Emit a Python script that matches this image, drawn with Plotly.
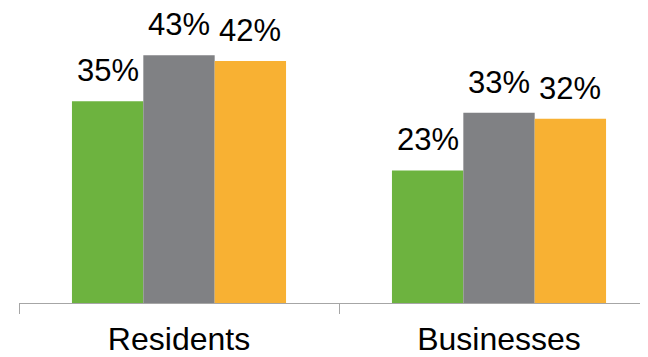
import plotly.graph_objects as go

categories = ["Residents", "Businesses"]
series_names = ["Series A", "Series B", "Series C"]
values_a = [35, 23]
values_b = [43, 33]
values_c = [42, 32]
colors = ["#6db33f", "#808184", "#f8b133"]

series = [values_a, values_b, values_c]
bargap = 0.331
bar_w = (1 - bargap) / len(series)

fig = go.Figure()
for name, vals, col in zip(series_names, series, colors):
    fig.add_trace(go.Bar(x=categories, y=vals, name=name, marker=dict(color=col, line=dict(width=0)),
                         hoverinfo="skip"))

annotations = []
for j, vals in enumerate(series):
    for i, v in enumerate(vals):
        annotations.append(dict(x=i + (j - (len(series) - 1) / 2) * bar_w, y=v, xref="x", yref="y",
                                text=f"{v}%", showarrow=False, yanchor="bottom", yshift=11,
                                font=dict(family="Liberation Sans, Arial", size=31, color="#000000")))

# page body has an 8px default margin, so the figure is sized to fit the 648x357 window
fig.update_layout(
    width=640, height=349,
    margin=dict(l=11, r=0, t=0, b=54),
    barmode="group", bargap=bargap, bargroupgap=0,
    showlegend=False,
    plot_bgcolor="white", paper_bgcolor="white",
    annotations=annotations,
    font=dict(family="Liberation Sans, Arial", color="#000000"),
)
fig.update_xaxes(type="category", range=[-0.5, 1.4656], showline=True, linecolor="#a6a6a6", linewidth=1,
                 ticks="outside", tickson="boundaries", ticklen=10, tickcolor="#a6a6a6", tickwidth=1,
                 ticklabelstandoff=8, automargin=False,
                 tickfont=dict(family="Liberation Sans, Arial", size=32, color="#000000"),
                 showgrid=False, zeroline=False)
fig.update_yaxes(visible=False, range=[0, 51.2], showgrid=False, zeroline=False, automargin=False)

fig.write_html("out.html")
